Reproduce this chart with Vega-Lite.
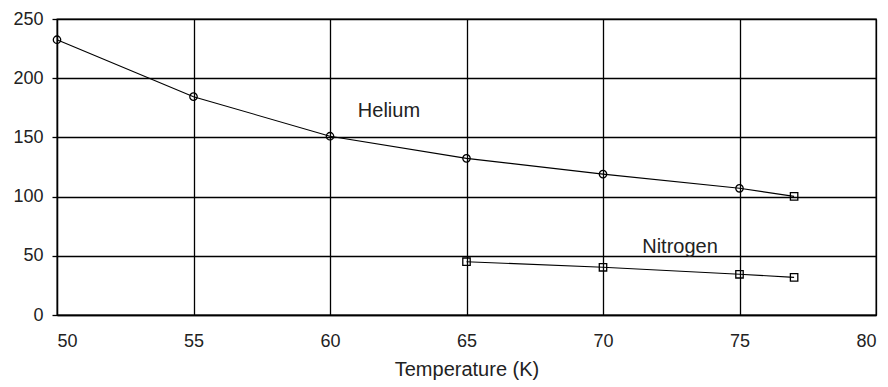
{
  "$schema": "https://vega.github.io/schema/vega-lite/v6.json",
  "width": 819,
  "height": 296,
  "autosize": {"type": "none"},
  "padding": {"left": 57, "top": 19, "right": 12, "bottom": 72},
  "background": "white",
  "config": {
    "font": "Liberation Sans",
    "view": {"stroke": "black", "strokeWidth": 1.3},
    "axis": {
      "grid": true,
      "gridColor": "black",
      "gridOpacity": 1,
      "gridWidth": 1.3,
      "domainColor": "black",
      "domainWidth": 1.3,
      "tickColor": "black",
      "tickWidth": 1.3,
      "labelFont": "Liberation Sans",
      "labelFontSize": 18,
      "labelColor": "#222",
      "titleFont": "Liberation Sans",
      "titleFontSize": 20,
      "titleFontWeight": "normal",
      "titleColor": "#222"
    }
  },
  "datasets": {
    "series": [
      {"series": "Helium", "T": 50, "value": 232.5},
      {"series": "Helium", "T": 55, "value": 184.4},
      {"series": "Helium", "T": 60, "value": 151},
      {"series": "Helium", "T": 65, "value": 132.3},
      {"series": "Helium", "T": 70, "value": 119},
      {"series": "Helium", "T": 75, "value": 107},
      {"series": "Helium", "T": 77, "value": 100.2},
      {"series": "Nitrogen", "T": 65, "value": 45},
      {"series": "Nitrogen", "T": 70, "value": 40.3},
      {"series": "Nitrogen", "T": 75, "value": 34.4},
      {"series": "Nitrogen", "T": 77, "value": 31.8}
    ],
    "labels": [
      {"label": "Helium", "T": 62.16, "value": 172.3},
      {"label": "Nitrogen", "T": 72.82, "value": 57.4}
    ]
  },
  "encoding": {
    "x": {
      "field": "T",
      "type": "quantitative",
      "scale": {"domain": [50, 80], "nice": false, "zero": false},
      "axis": {
        "values": [50, 55, 60, 65, 70, 75, 80],
        "tickSize": 0,
        "labelPadding": 17,
        "title": "Temperature (K)",
        "titlePadding": 9
      }
    },
    "y": {
      "field": "value",
      "type": "quantitative",
      "scale": {"domain": [0, 250], "nice": false},
      "axis": {
        "values": [0, 50, 100, 150, 200, 250],
        "tickSize": 5,
        "labelPadding": 9,
        "title": null
      }
    }
  },
  "layer": [
    {
      "data": {"name": "series"},
      "mark": {"type": "line", "color": "black", "strokeWidth": 1.1},
      "encoding": {"detail": {"field": "series"}}
    },
    {
      "data": {"name": "series"},
      "mark": {"type": "point", "filled": false, "stroke": "black", "strokeWidth": 1.3, "size": 55, "opacity": 1},
      "encoding": {
        "shape": {
          "condition": {"test": "datum.series == 'Nitrogen' || datum.T == 77", "value": "square"},
          "value": "circle"
        }
      }
    },
    {
      "data": {"name": "labels"},
      "mark": {"type": "text", "font": "Liberation Sans", "fontSize": 20, "color": "#222", "align": "center", "baseline": "middle"},
      "encoding": {"text": {"field": "label"}}
    }
  ]
}
